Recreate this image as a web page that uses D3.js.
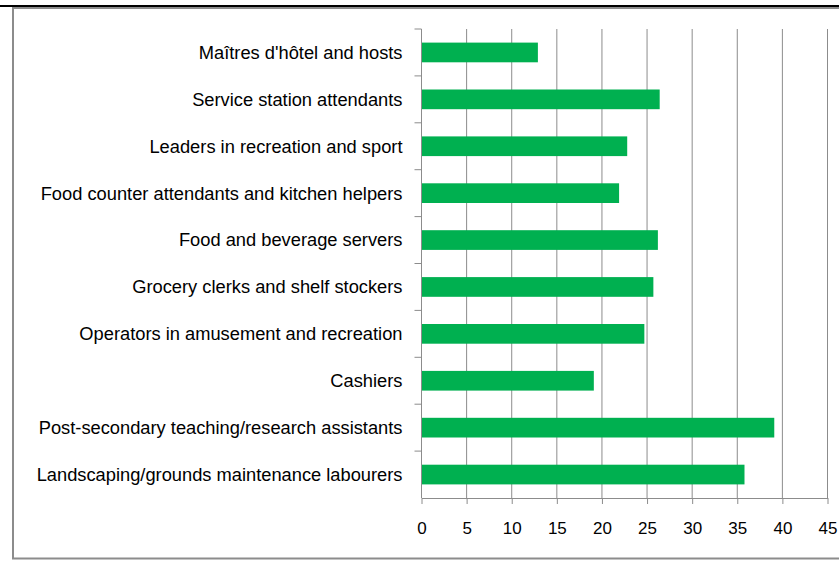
<!DOCTYPE html>
<html>
<head>
<meta charset="utf-8">
<script src="https://cdn.jsdelivr.net/npm/d3@7"></script>
<style>
  html, body { margin: 0; padding: 0; background: #fff; }
  svg { display: block; }
  text { font-family: "Liberation Sans", Arial, sans-serif; fill: #000; }
</style>
</head>
<body>
<svg id="chart" width="839" height="561"></svg>
<script>
// Occupations, listed top to bottom
const categories = [
  "Maîtres d'hôtel and hosts",
  "Service station attendants",
  "Leaders in recreation and sport",
  "Food counter attendants and kitchen helpers",
  "Food and beverage servers",
  "Grocery clerks and shelf stockers",
  "Operators in amusement and recreation",
  "Cashiers",
  "Post-secondary teaching/research assistants",
  "Landscaping/grounds maintenance labourers"
];
const values = [12.9, 26.4, 22.8, 21.9, 26.2, 25.7, 24.7, 19.1, 39.1, 35.8];
const xTicks = [0, 5, 10, 15, 20, 25, 30, 35, 40, 45];

const svg = d3.select("#chart");

// Top rule and outer frame
svg.append("rect").attr("x", 0).attr("y", 5).attr("width", 839).attr("height", 2).attr("fill", "#000");
svg.append("path")
  .attr("d", "M 845 8 L 13 8 L 13 558.5 L 845 558.5")
  .attr("fill", "none").attr("stroke", "#8c8c8c").attr("stroke-width", 2);

const plot = { left: 421.5, right: 827.5, top: 29, bottom: 498 };

const x = d3.scaleLinear().domain([0, 45]).range([plot.left, plot.right]);
const y = d3.scaleBand().domain(categories).range([plot.top, plot.bottom]).paddingInner(0.58).paddingOuter(0.29);
const yBand = d3.scaleBand().domain(categories).range([plot.top, plot.bottom]);

// Vertical gridlines
svg.append("g").selectAll("line").data(xTicks.slice(1)).join("line")
  .attr("x1", d => x(d)).attr("x2", d => x(d))
  .attr("y1", plot.top).attr("y2", plot.bottom)
  .attr("stroke", "#8c8c8c").attr("stroke-width", 1);

// Bars
svg.append("g").selectAll("rect").data(values).join("rect")
  .attr("x", x(0))
  .attr("y", (d, i) => y(categories[i]))
  .attr("width", d => x(d) - x(0))
  .attr("height", y.bandwidth())
  .attr("fill", "#00b050");

// X axis
const xAxis = d3.axisBottom(x).tickValues(xTicks).tickSize(6).tickPadding(18).tickSizeOuter(0);
const gx = svg.append("g").attr("transform", `translate(0,${plot.bottom})`).call(xAxis);
gx.select(".domain").attr("stroke", "#8c8c8c");
gx.selectAll(".tick line").attr("stroke", "#8c8c8c");
gx.selectAll(".tick text").attr("font-size", 17).attr("font-family", "Liberation Sans, Arial, sans-serif").attr("fill", "#000");

// Y axis: ticks sit on band boundaries, labels centred on bands
const gy = svg.append("g").attr("transform", `translate(${plot.left},0)`);
gy.append("line").attr("x1", 0).attr("x2", 0).attr("y1", plot.top).attr("y2", plot.bottom)
  .attr("stroke", "#8c8c8c");
gy.selectAll("line.tk").data(categories).join("line").attr("class", "tk")
  .attr("x1", -7).attr("x2", 0)
  .attr("y1", d => yBand(d)).attr("y2", d => yBand(d))
  .attr("stroke", "#8c8c8c");
gy.selectAll("text").data(categories).join("text")
  .attr("x", -19)
  .attr("y", d => yBand(d) + yBand.bandwidth() / 2)
  .attr("dy", "0.35em")
  .attr("text-anchor", "end")
  .attr("font-size", 18.3)
  .text(d => d);
</script>
</body>
</html>
